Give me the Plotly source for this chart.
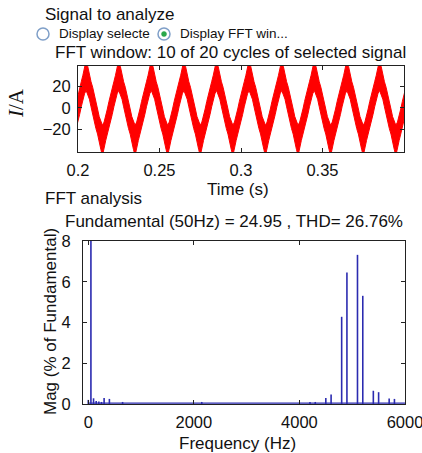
import plotly.graph_objects as go

W, H = 422, 453

# ---------------- signal window (10 cycles of 50 Hz current) ----------------
# Edges of the red band over one period, sampled every 1 ms starting at a trough.
period_ms = [0, 1, 2, 3, 4, 5, 6, 7, 8, 9, 10, 11, 12, 13, 14, 15, 16, 17, 18, 19, 20]
band_upper = [-16, -13, -8, -1, 6, 13, 19, 24, 30, 38, 44, 38, 30, 24, 19, 13, 6, -1, -8, -13, -16]
band_lower = [-44, -38, -30, -24, -19, -13, -6, 1, 8, 13, 16, 13, 8, 1, -6, -13, -19, -24, -30, -38, -44]
trough_times = [0.195, 0.215, 0.235, 0.255, 0.275, 0.295, 0.315, 0.335, 0.355, 0.375, 0.395]

time_ticks = [0.2, 0.25, 0.3, 0.35]
time_tick_text = ["0.2", "0.25", "0.3", "0.35"]
current_ticks = [-20, 0, 20]

# ---------------- FFT spectrum (% of fundamental) ----------------
freq_hz = [0, 50, 100, 150, 200, 250, 300, 400, 650, 2150,
           4200, 4300, 4500, 4600, 4800, 4900, 5100, 5200, 5400, 5500, 5700, 5800]
mag_pct = [0.2, 100, 0.28, 0.15, 0.12, 0.1, 0.3, 0.25, 0.1, 0.1,
           0.1, 0.1, 0.3, 0.47, 4.28, 6.45, 7.32, 5.31, 0.65, 0.58, 0.27, 0.25]
freq_ticks = [0, 2000, 4000, 6000]
mag_ticks = [0, 2, 4, 6, 8]

fundamental_hz = 50
fundamental_amp = 24.95
thd_pct = 26.76


def px(x):
    return x / W


def py(y):
    return 1 - y / H


# band polygon: upper edge forward, lower edge backward, cycle by cycle
up_t, up_v, lo_t, lo_v = [], [], [], []
for t0 in trough_times:
    for ms, u, l in zip(period_ms, band_upper, band_lower):
        up_t.append(t0 + ms / 1000.0)
        up_v.append(u)
        lo_t.append(t0 + ms / 1000.0)
        lo_v.append(l)
poly_t = up_t + lo_t[::-1]
poly_v = up_v + lo_v[::-1]

fig = go.Figure()

fig.add_trace(go.Scatter(
    x=poly_t, y=poly_v, mode="lines", fill="toself",
    fillcolor="#ff0000", line=dict(color="#ff0000", width=1),
    xaxis="x", yaxis="y", hoverinfo="skip", showlegend=False))

# stems of the spectrum
stem_x, stem_y = [], []
for f, m in zip(freq_hz, mag_pct):
    stem_x += [f, f, None]
    stem_y += [0, m, None]
fig.add_trace(go.Scatter(
    x=stem_x, y=stem_y, mode="lines",
    line=dict(color="#2b2bb0", width=1.6),
    xaxis="x2", yaxis="y2", hoverinfo="skip", showlegend=False))
# bar baseline
fig.add_trace(go.Scatter(
    x=[0, 6000], y=[0.04, 0.04], mode="lines",
    line=dict(color="#2b2bb0", width=1.2),
    xaxis="x2", yaxis="y2", hoverinfo="skip", showlegend=False))

FONT = "Liberation Sans, Arial, sans-serif"
axis_common = dict(
    showline=True, linecolor="#222", linewidth=1, mirror="allticks",
    ticks="inside", ticklen=4, tickcolor="#222", showgrid=False, zeroline=False,
    automargin=False, ticklabeloverflow="allow",
    tickfont=dict(family=FONT, size=16.5, color="#111"),
)

fig.update_layout(
    template="none",
    width=W, height=H,
    margin=dict(l=0, r=0, t=0, b=0, pad=0),
    paper_bgcolor="white", plot_bgcolor="white",
    showlegend=False,
    xaxis=dict(domain=[px(78), px(404)], anchor="y", range=[0.2, 0.4],
               tickvals=time_ticks, ticktext=time_tick_text, ticklabelstandoff=3,
               **axis_common),
    yaxis=dict(domain=[py(152), py(66)], anchor="x", range=[-40.5, 38.5],
               tickvals=current_ticks, ticklabelstandoff=3, **axis_common),
    xaxis2=dict(domain=[px(83), px(405)], anchor="y2", range=[-100, 6000],
                tickvals=freq_ticks, ticklabelstandoff=3, **axis_common),
    yaxis2=dict(domain=[py(404), py(241)], anchor="x2", range=[0, 8],
                tickvals=mag_ticks, ticklabelstandoff=8, **axis_common),
)


def label(text, x, y, size=17, xanchor="left", angle=0, family=FONT, color="#111"):
    fig.add_annotation(text=text, x=px(x), y=py(y), xref="paper", yref="paper",
                       xanchor=xanchor, yanchor="middle", showarrow=False, borderpad=0,
                       textangle=angle, font=dict(family=family, size=size, color=color))


label("Signal to analyze", 44, 15)
label("Display selecte", 58, 34, size=13.5)
label("Display FFT win...", 179, 34, size=13.5)
label("FFT window: 10 of 20 cycles of selected signal", 54, 52)
label("<i>I</i>/A", 16, 103, size=21, xanchor="center", angle=-90,
      family="Liberation Serif, Times New Roman, serif")
label("Time (s)", 238, 190, xanchor="center")
label("FFT analysis", 44, 198)
label("Fundamental (%dHz) = %.2f , THD= %.2f%%" % (fundamental_hz, fundamental_amp, thd_pct),
      64, 221)
label("Mag (% of Fundamental)", 50, 322, xanchor="center", angle=-90)
label("Frequency (Hz)", 237, 443, xanchor="center")

# radio buttons
for cx in (43, 164):
    fig.add_shape(type="circle", xref="paper", yref="paper",
                  x0=px(cx - 6), x1=px(cx + 6), y0=py(34 + 6), y1=py(34 - 6),
                  line=dict(color="#7f9fc8", width=1.5), fillcolor="white")
fig.add_shape(type="circle", xref="paper", yref="paper",
              x0=px(164 - 2.5), x1=px(164 + 2.5), y0=py(34 + 2.5), y1=py(34 - 2.5),
              line=dict(color="#2aa84a", width=0.5), fillcolor="#2aa84a")

fig.write_html("out.html")
